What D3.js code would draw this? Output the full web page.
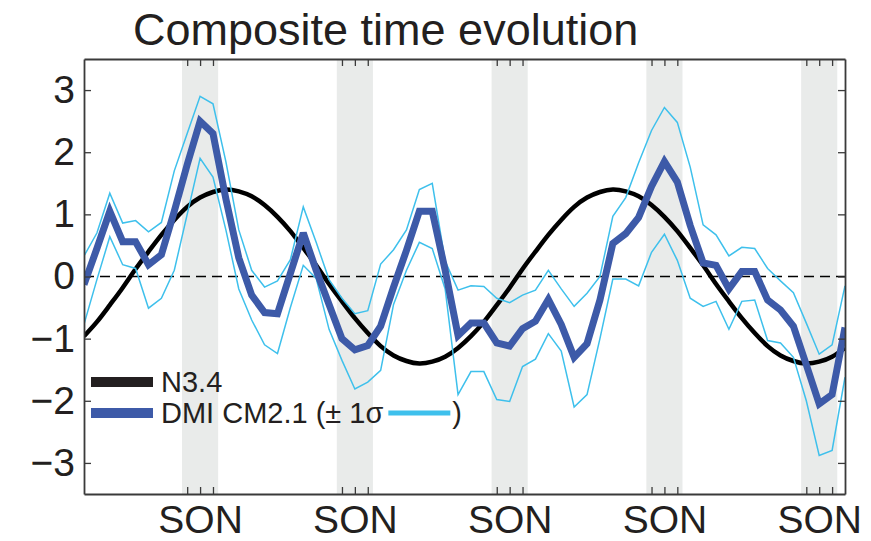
<!DOCTYPE html>
<html>
<head>
<meta charset="utf-8">
<script src="https://cdn.jsdelivr.net/npm/d3@7"></script>
<style>
  body { margin: 0; background: #fff; }
  svg { display: block; }
  text { font-family: "Liberation Sans", Arial, Helvetica, sans-serif; fill: #231f20; }
</style>
</head>
<body>
<svg id="chart" width="871" height="541"></svg>
<script>
// ---- data -------------------------------------------------------------
const title = "Composite time evolution";
const months = d3.range(60);                 // month index, January of year 0 = 0
const sonCenters = [9, 21, 33, 45, 57];      // October of each year
const sonLabel = "SON";
const yTicks = [-3, -2, -1, 0, 1, 2, 3];

// Niño-3.4 composite
const n34 = [
  -0.96, -0.73, -0.46, -0.18, 0.12, 0.40, 0.67, 0.91, 1.12, 1.27,
   1.36,  1.40,  1.37,  1.29, 1.15, 0.96, 0.73, 0.46, 0.18, -0.12,
  -0.40, -0.67, -0.91, -1.12, -1.27, -1.36, -1.40, -1.37, -1.29, -1.15,
  -0.96, -0.73, -0.46, -0.18, 0.12, 0.40, 0.67, 0.91, 1.12, 1.27,
   1.36,  1.40,  1.37,  1.29, 1.15, 0.96, 0.73, 0.46, 0.18, -0.12,
  -0.40, -0.67, -0.91, -1.12, -1.27, -1.36, -1.40, -1.37, -1.29, -1.15
];

// DMI composite from CM2.1
const dmi = [
  -0.13, 0.45, 1.05, 0.56, 0.56, 0.19, 0.35, 1.05, 1.80, 2.50,
   2.30, 1.25, 0.30, -0.30, -0.58, -0.60, 0.05, 0.70, 0.10, -0.45,
  -1.00, -1.18, -1.11, -0.80, -0.17, 0.42, 1.05, 1.05, 0.10, -0.95,
  -0.75, -0.75, -1.07, -1.12, -0.84, -0.72, -0.37, -0.77, -1.30, -1.08,
  -0.38, 0.53, 0.69, 0.95, 1.45, 1.85, 1.52, 0.82, 0.22, 0.18,
  -0.20, 0.08, 0.08, -0.38, -0.54, -0.80, -1.42, -2.05, -1.90, -0.82
];

// DMI + 1 sigma
const dmiUpper = [
   0.33, 0.70, 1.34, 0.86, 0.90, 0.72, 0.87, 1.70, 2.30, 2.90,
   2.78, 1.85, 0.75, 0.10, -0.17, -0.07, 0.27, 1.12, 0.55, -0.05,
  -0.35, -0.60, -0.55, 0.20, 0.43, 0.75, 1.40, 1.50, 0.25, -0.22,
  -0.15, -0.16, -0.35, -0.42, -0.30, -0.22, 0.10, -0.20, -0.48, -0.27,
   0.00, 0.97, 1.27, 1.83, 2.35, 2.72, 2.48, 1.76, 0.83, 0.67,
   0.33, 0.47, 0.45, 0.13, -0.07, -0.26, -0.75, -1.25, -1.10, -0.15
];

// DMI - 1 sigma
const dmiLower = [
  -0.77, -0.05, 0.64, 0.19, 0.13, -0.51, -0.35, 0.10, 1.00, 1.90,
   1.60, 0.75, -0.20, -0.70, -1.10, -1.24, -0.50, 0.18, -0.03, -0.85,
  -1.35, -1.81, -1.70, -1.51, -0.45, 0.10, 0.55, 0.45, -0.20, -1.90,
  -1.53, -1.53, -1.98, -2.01, -1.45, -1.33, -0.92, -1.20, -2.10, -1.90,
  -1.00, -0.04, -0.04, -0.15, 0.39, 0.68, 0.26, -0.35, -0.48, -0.40,
  -0.85, -0.40, -0.38, -1.03, -1.07, -1.30, -2.00, -2.88, -2.80, -1.62
];

// ---- layout -----------------------------------------------------------
const svg = d3.select("#chart");
const plot = { left: 84, right: 845, top: 59, bottom: 494 };

const x = d3.scaleLinear().domain([0, 59]).range([plot.left, plot.right]);
const y = d3.scaleLinear().domain([-3.5, 3.5]).range([plot.bottom, plot.top]);

const COL = {
  band: "#e9ebea",
  frame: "#3a3a3a",
  black: "#000000",
  legendBlack: "#231f20",
  blue: "#3d5aa8",
  cyan: "#3ec0ec"
};

svg.append("defs").append("clipPath").attr("id", "plotClip")
  .append("rect")
  .attr("x", plot.left).attr("y", plot.top)
  .attr("width", plot.right - plot.left).attr("height", plot.bottom - plot.top);

// September–November shading
svg.append("g").selectAll("rect")
  .data(sonCenters)
  .join("rect")
  .attr("x", d => x(d - 1.4))
  .attr("y", plot.top)
  .attr("width", d => x(d + 1.4) - x(d - 1.4))
  .attr("height", plot.bottom - plot.top)
  .attr("fill", COL.band);

// zero reference
svg.append("line")
  .attr("x1", plot.left).attr("x2", plot.right)
  .attr("y1", y(0)).attr("y2", y(0))
  .attr("stroke", "#000").attr("stroke-width", 1.6)
  .attr("stroke-dasharray", "10,6");

const lineOf = vals => d3.line().x((d, i) => x(months[i])).y(d => y(d))(vals);

const lines = svg.append("g").attr("clip-path", "url(#plotClip)");

lines.append("path")
  .attr("d", d3.line().x((d, i) => x(months[i])).y(d => y(d)).curve(d3.curveNatural)(n34))
  .attr("fill", "none").attr("stroke", COL.black).attr("stroke-width", 4.5);

[dmiUpper, dmiLower].forEach(vals => {
  lines.append("path")
    .attr("d", lineOf(vals))
    .attr("fill", "none").attr("stroke", COL.cyan).attr("stroke-width", 1.5)
    .attr("stroke-linejoin", "miter");
});

lines.append("path")
  .attr("d", lineOf(dmi))
  .attr("fill", "none").attr("stroke", COL.blue).attr("stroke-width", 7)
  .attr("stroke-linejoin", "miter").attr("stroke-miterlimit", 3);

// ---- axes / frame -------------------------------------------------------
const sonTicks = sonCenters.flatMap(c => [c - 1, c, c + 1]);
const fmt = d => (d < 0 ? "\u2212" + Math.abs(d) : String(d));

const styleAxis = g => {
  g.select(".domain").attr("stroke", COL.frame).attr("stroke-width", 1.8);
  g.selectAll(".tick line").attr("stroke", COL.frame).attr("stroke-width", 1.3);
  g.selectAll(".tick text").attr("font-size", 39)
    .attr("font-family", "'Liberation Sans', Arial, Helvetica, sans-serif")
    .attr("fill", "#231f20");
};

svg.append("g")
  .attr("transform", `translate(${plot.left},0)`)
  .call(d3.axisLeft(y).tickValues(yTicks).tickFormat(fmt).tickSize(-7).tickSizeOuter(0).tickPadding(9))
  .call(styleAxis);

svg.append("g")
  .attr("transform", `translate(${plot.right},0)`)
  .call(d3.axisRight(y).tickValues(yTicks).tickFormat("").tickSize(-7).tickSizeOuter(0))
  .call(styleAxis);

svg.append("g")
  .attr("transform", `translate(0,${plot.top})`)
  .call(d3.axisTop(x).tickValues(sonTicks).tickFormat("").tickSize(-7).tickSizeOuter(0))
  .call(styleAxis);

svg.append("g")
  .attr("transform", `translate(0,${plot.bottom})`)
  .call(d3.axisBottom(x).tickValues(sonTicks)
    .tickFormat(d => (sonCenters.includes(d) ? sonLabel : ""))
    .tickSize(-7).tickSizeOuter(0).tickPadding(11))
  .call(styleAxis);

// ---- title ------------------------------------------------------------
svg.append("text")
  .attr("x", 133).attr("y", 45)
  .attr("font-size", 45)
  .text(title);

// ---- legend -------------------------------------------------------------
const legend = svg.append("g");
const lgX0 = 91, lgX1 = 153, lgText = 161, fs = 29;

legend.append("line")
  .attr("x1", lgX0).attr("x2", lgX1).attr("y1", 382).attr("y2", 382)
  .attr("stroke", COL.legendBlack).attr("stroke-width", 10);
legend.append("text").attr("x", lgText).attr("y", 392).attr("font-size", fs).text("N3.4");

legend.append("line")
  .attr("x1", lgX0).attr("x2", lgX1).attr("y1", 413).attr("y2", 413)
  .attr("stroke", COL.blue).attr("stroke-width", 10);
const dmiText = legend.append("text").attr("x", lgText).attr("y", 423)
  .attr("font-size", fs).text("DMI CM2.1 (\u00B1 1\u03C3");

const tEnd = lgText + dmiText.node().getComputedTextLength();
legend.append("line")
  .attr("x1", tEnd + 5).attr("x2", tEnd + 67).attr("y1", 413).attr("y2", 413)
  .attr("stroke", COL.cyan).attr("stroke-width", 5);
legend.append("text").attr("x", tEnd + 69).attr("y", 423).attr("font-size", fs).text(")");
</script>
</body>
</html>
